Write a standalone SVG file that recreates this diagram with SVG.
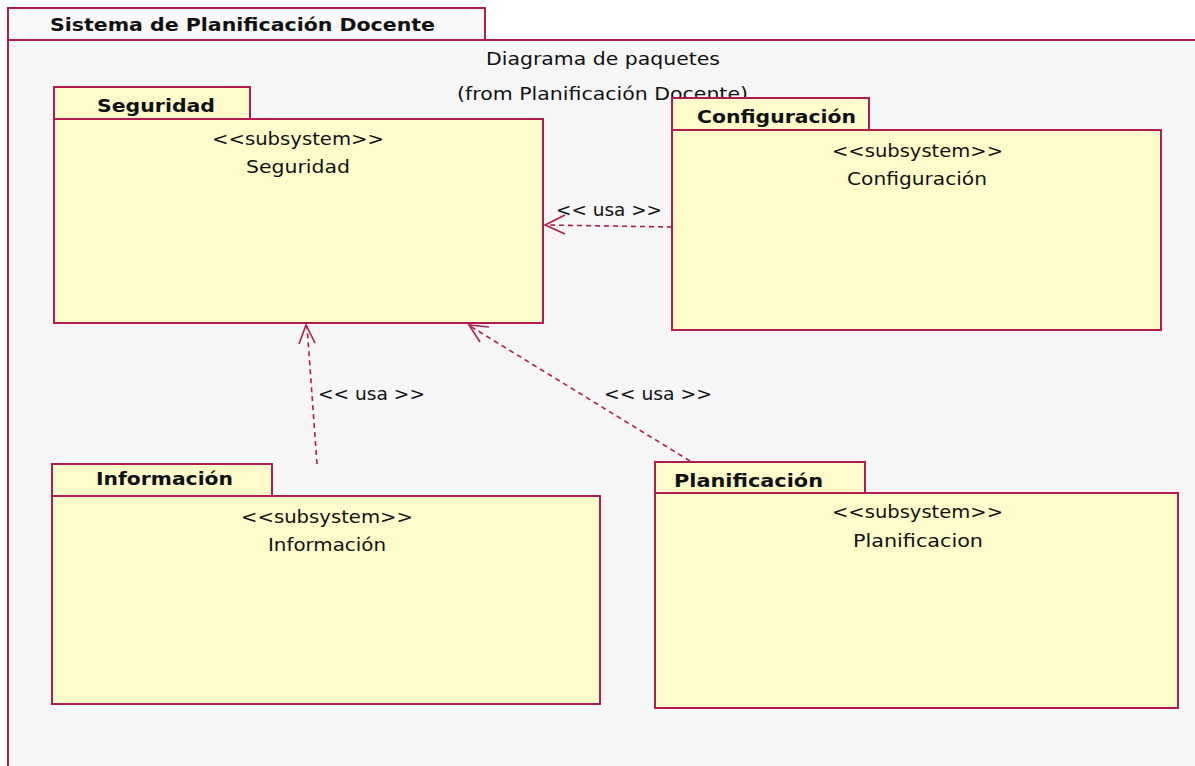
<svg xmlns="http://www.w3.org/2000/svg" width="1195" height="766" viewBox="0 0 1195 766">
<style>
.frame{fill:#f6f6f6;stroke:#b21b4f;stroke-width:2}
.ftab{fill:#f8f8f8;stroke:#b21b4f;stroke-width:2}
.pk{fill:#fffccb;stroke:#b21b4f;stroke-width:2}
.t{font-family:"DejaVu Sans",Verdana,sans-serif;font-size:18px;fill:#111}
.b{font-family:"DejaVu Sans",Verdana,sans-serif;font-size:18px;font-weight:bold;fill:#111}
.dep{fill:none;stroke:#b21b4f;stroke-width:1.6;stroke-dasharray:5,4}
.ah{fill:none;stroke:#b21b4f;stroke-width:1.6}
</style>
<rect x="0" y="0" width="1195" height="766" fill="#ffffff"/>
<g id="frame">
<rect class="frame" x="8" y="40" width="1200" height="740"/>
<rect class="ftab" x="8" y="8" width="477" height="32"/>
<text class="b" x="50" y="31" textLength="385" lengthAdjust="spacingAndGlyphs">Sistema de Planificación Docente</text>
<text class="t" x="486" y="65" textLength="234" lengthAdjust="spacingAndGlyphs">Diagrama de paquetes</text>
<text class="t" x="457" y="100" textLength="291" lengthAdjust="spacingAndGlyphs">(from Planificación Docente)</text>
</g>
<g id="seguridad">
<rect class="pk" x="54" y="87" width="196" height="32"/>
<rect class="pk" x="54" y="119" width="489" height="204"/>
<text class="b" x="97" y="112" textLength="118" lengthAdjust="spacingAndGlyphs">Seguridad</text>
<text class="t" x="212" y="145" textLength="172" lengthAdjust="spacingAndGlyphs">&lt;&lt;subsystem&gt;&gt;</text>
<text class="t" x="246" y="173" textLength="104" lengthAdjust="spacingAndGlyphs">Seguridad</text>
</g>
<g id="configuracion">
<rect class="pk" x="672" y="98" width="197" height="32"/>
<rect class="pk" x="672" y="130" width="489" height="200"/>
<text class="b" x="697" y="123" textLength="159" lengthAdjust="spacingAndGlyphs">Configuración</text>
<text class="t" x="832" y="157" textLength="171" lengthAdjust="spacingAndGlyphs">&lt;&lt;subsystem&gt;&gt;</text>
<text class="t" x="847" y="185" textLength="140" lengthAdjust="spacingAndGlyphs">Configuración</text>
</g>
<g id="informacion">
<rect class="pk" x="52" y="464" width="220" height="32"/>
<rect class="pk" x="52" y="496" width="548" height="208"/>
<text class="b" x="96" y="485" textLength="137" lengthAdjust="spacingAndGlyphs">Información</text>
<text class="t" x="241" y="523" textLength="172" lengthAdjust="spacingAndGlyphs">&lt;&lt;subsystem&gt;&gt;</text>
<text class="t" x="268" y="551" textLength="118" lengthAdjust="spacingAndGlyphs">Información</text>
</g>
<g id="planificacion">
<rect class="pk" x="655" y="462" width="210" height="31"/>
<rect class="pk" x="655" y="493" width="523" height="215"/>
<text class="b" x="674" y="487" textLength="149" lengthAdjust="spacingAndGlyphs">Planificación</text>
<text class="t" x="832" y="518" textLength="171" lengthAdjust="spacingAndGlyphs">&lt;&lt;subsystem&gt;&gt;</text>
<text class="t" x="853" y="547" textLength="130" lengthAdjust="spacingAndGlyphs">Planificacion</text>
</g>
<g id="connectors">
<path class="dep" d="M672,227 L546,225"/>
<path class="ah" d="M565,215 L545,225 L565,234"/>
<text class="t" x="556" y="216" textLength="106" lengthAdjust="spacingAndGlyphs">&lt;&lt; usa &gt;&gt;</text>
<path class="dep" d="M317,464 L307,326"/>
<path class="ah" d="M299,344 L306,325 L315,343"/>
<text class="t" x="318" y="400" textLength="107" lengthAdjust="spacingAndGlyphs">&lt;&lt; usa &gt;&gt;</text>
<path class="dep" d="M690,461 L470,326"/>
<path class="ah" d="M480,342 L469,325 L489,327"/>
<text class="t" x="604" y="400" textLength="108" lengthAdjust="spacingAndGlyphs">&lt;&lt; usa &gt;&gt;</text>
</g>
</svg>
